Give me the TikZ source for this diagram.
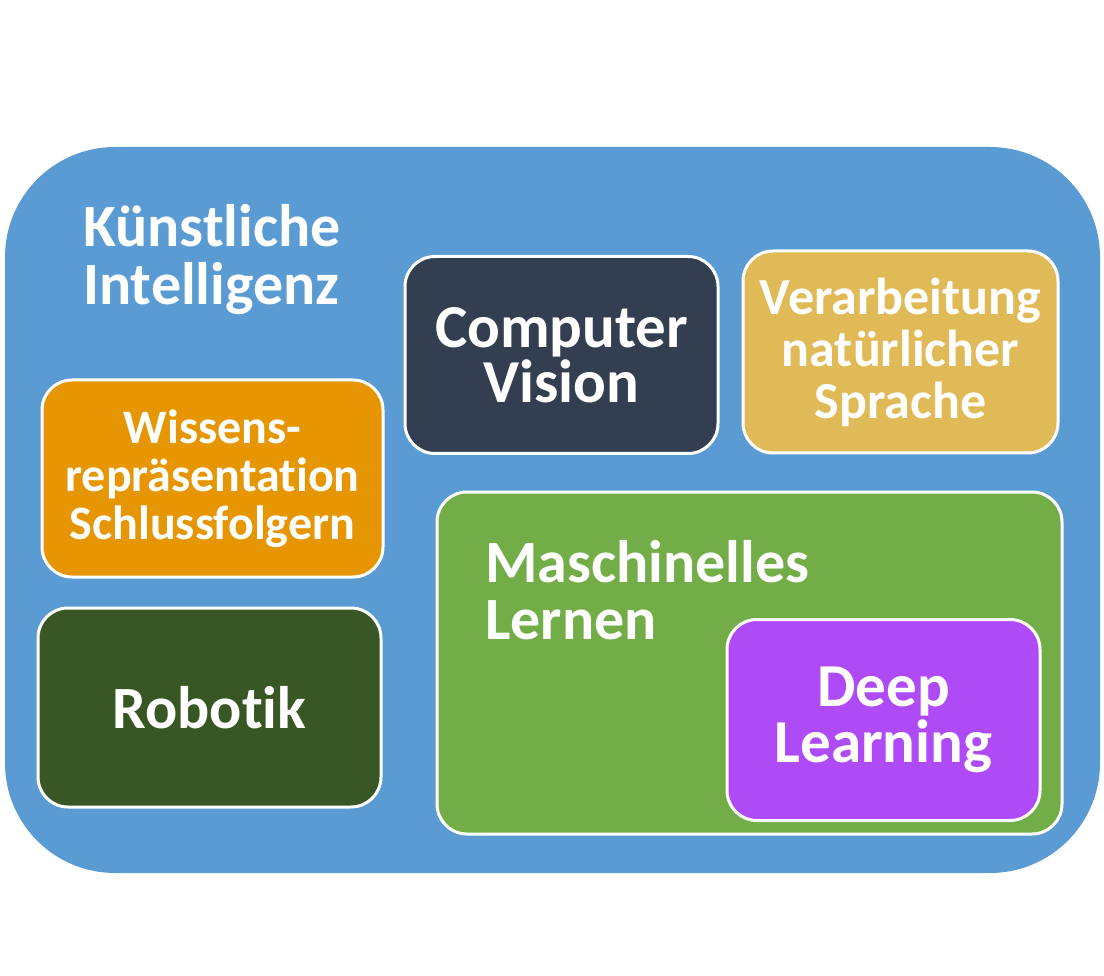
\documentclass[tikz,border=0pt]{standalone}
\usepackage{fontspec}
\setmainfont{Carlito}[Ligatures={NoCommon}]
\definecolor{aiblue}{RGB}{91,155,211}
\definecolor{cvslate}{RGB}{51,63,80}
\definecolor{nlpgold}{RGB}{224,186,86}
\definecolor{wisorange}{RGB}{229,150,2}
\definecolor{robgreen}{RGB}{57,87,36}
\definecolor{mlgreen}{RGB}{114,173,72}
\definecolor{dlpurple}{RGB}{174,74,246}
\tikzset{
  fieldbox/.style={draw=white, line width=3pt, rounded corners=30pt, inner sep=0pt,
    text=white, align=center, font=\bfseries},
  fsize/.style n args={2}{font=\fontsize{#1}{#2}\selectfont\bfseries}
}
\begin{document}
\begin{tikzpicture}[x=1pt,y=-1pt]
\useasboundingbox (0,0) rectangle (1104,976);
\node[fill=aiblue, rounded corners=110pt, minimum width=1095pt, minimum height=726pt, inner sep=0pt] (ai) at (552.5,510) {};
\node[text=white, align=left, anchor=north west, inner sep=0pt, fsize={60}{58}] (aititle) at (83,204) {Künstliche\\Intelligenz};
\node[fieldbox, fill=cvslate, minimum width=313pt, minimum height=197pt, fsize={61}{55}] (cv) at (561.5,355) {Computer\\Vision};
\node[fieldbox, fill=nlpgold, minimum width=315pt, minimum height=202pt, fsize={52}{52}] (nlp) at (900.5,352) {Verarbeitung\\natürlicher\\Sprache};
\node[fieldbox, fill=wisorange, minimum width=341pt, minimum height=197pt, fsize={48}{48}] (wis) at (212.5,478.5) {Wissens-\\repräsentation\\Schlussfolgern};
\node[fieldbox, fill=robgreen, minimum width=343pt, minimum height=199pt, fsize={60}{56}] (rob) at (209.5,707.5) {Robotik};
\node[fieldbox, fill=mlgreen, minimum width=625pt, minimum height=342pt] (ml) at (749.5,663) {};
\node[text=white, align=left, anchor=north west, inner sep=0pt, fsize={60}{57}] (mltitle) at (485,540) {Maschinelles\\Lernen};
\node[fieldbox, fill=dlpurple, minimum width=313pt, minimum height=201pt, fsize={61}{56}] (dl) at (883.5,720) {Deep\\Learning};
\end{tikzpicture}
\end{document}
